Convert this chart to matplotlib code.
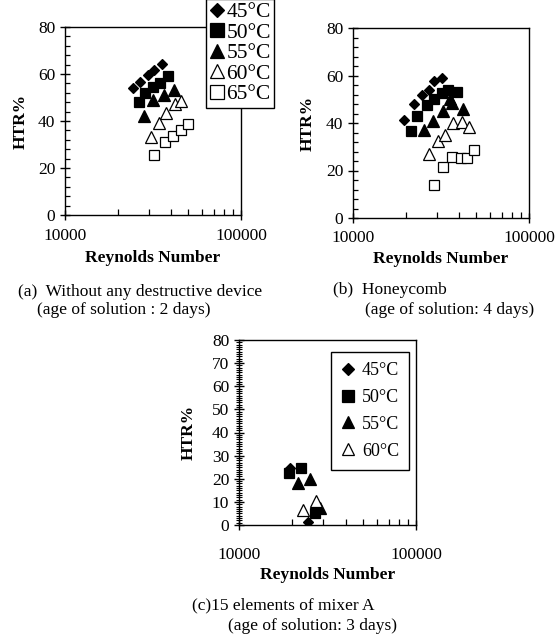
import matplotlib
matplotlib.use("Agg")
import matplotlib.pyplot as plt
from matplotlib.lines import Line2D
from matplotlib.ticker import FixedLocator, MultipleLocator, NullFormatter, LogLocator

plt.rcParams['font.family'] = ['Liberation Serif', 'DejaVu Serif']

temps = ['45°C', '50°C', '55°C', '60°C', '65°C']

# (a) without any destructive device
re_a = {
    '45°C': [24400, 26700, 29500, 32200, 35800],
    '50°C': [26400, 28500, 31800, 34700, 38600],
    '55°C': [28100, 31800, 36500, 41500],
    '60°C': [30700, 34200, 37300, 42200, 45400],
    '65°C': [32200, 37000, 40900, 45400, 50200],
}
htr_a = {
    '45°C': [54.2, 56.7, 59.6, 61.7, 64.1],
    '50°C': [48.2, 52.0, 54.3, 56.0, 59.0],
    '55°C': [42.1, 48.9, 51.0, 53.2],
    '60°C': [33.1, 39.3, 43.3, 47.2, 48.5],
    '65°C': [25.5, 30.9, 33.6, 36.2, 38.7],
}

# (b) honeycomb
re_b = {
    '45°C': [19500, 22200, 24600, 27200, 28900, 32200],
    '50°C': [21300, 23000, 26200, 28900, 31900, 34800, 38800],
    '55°C': [25300, 28400, 32300, 35400, 36300, 42000],
    '60°C': [27200, 30500, 33300, 37200, 41400, 45700],
    '65°C': [28900, 32600, 36700, 40900, 44600, 48600],
}
htr_b = {
    '45°C': [41.3, 48.2, 51.7, 53.8, 57.5, 58.9],
    '50°C': [36.6, 43.0, 47.5, 50.0, 52.5, 54.0, 53.0],
    '55°C': [37.0, 40.8, 45.0, 50.0, 48.3, 46.0],
    '60°C': [26.8, 32.4, 34.8, 40.1, 40.4, 38.3],
    '65°C': [13.7, 21.5, 25.8, 25.1, 25.1, 28.5],
}

# (c) 15 elements of mixer A
re_c = {
    '45°C': [19500, 24600],
    '50°C': [19200, 22500, 26800],
    '55°C': [21600, 25100, 28600],
    '60°C': [23000, 27200],
}
htr_c = {
    '45°C': [24.5, 1.4],
    '50°C': [22.3, 24.5, 5.3],
    '55°C': [18.0, 19.7, 7.2],
    '60°C': [6.5, 10.5],
}

estilo = {
    '45°C': dict(marker='D', ms=5.5, mfc='black'),
    '50°C': dict(marker='s', ms=7.5, mfc='black'),
    '55°C': dict(marker='^', ms=8.5, mfc='black'),
    '60°C': dict(marker='^', ms=8.5, mfc='white'),
    '65°C': dict(marker='s', ms=7.5, mfc='white'),
}

W, H = 559, 635
fig = plt.figure(figsize=(W / 100, H / 100), dpi=100)

def px_axes(x0, y0, x1, y1):
    return fig.add_axes([x0 / W, 1 - y1 / H, (x1 - x0) / W, (y1 - y0) / H])

def montar(ax, re, htr, ymajor, yminor, cminor_inout=False, xpad=5.5, ypad=4, xlpad=3):
    for t in re:
        ax.plot(re[t], htr[t], linestyle='none', mec='black', mew=0.9, zorder=3, **estilo[t])
    ax.set_xscale('log')
    ax.set_xlim(10000, 100000)
    ax.set_ylim(0, 80)
    ax.xaxis.set_major_locator(FixedLocator([10000, 100000]))
    ax.set_xticklabels(['10000', '100000'])
    ax.xaxis.set_minor_locator(LogLocator(base=10, subs=range(2, 10)))
    ax.xaxis.set_minor_formatter(NullFormatter())
    ax.yaxis.set_major_locator(MultipleLocator(ymajor))
    ax.yaxis.set_minor_locator(MultipleLocator(yminor))
    ax.tick_params(axis='both', which='major', direction='inout', length=7, width=1,
                   labelsize=12.5, colors='black')
    ax.tick_params(axis='x', which='major', pad=xpad)
    ax.tick_params(axis='x', which='minor', direction='in', length=4, width=0.9)
    if cminor_inout:
        ax.tick_params(axis='y', which='minor', direction='inout', length=4, width=0.8)
    else:
        ax.tick_params(axis='y', which='minor', direction='in', length=3.6, width=0.9)
    for s in ax.spines.values():
        s.set_linewidth(1)
    ax.set_xlabel('Reynolds Number', fontsize=12.5, fontweight='bold', labelpad=xlpad)
    ax.set_ylabel('HTR%', fontsize=12.5, fontweight='bold', labelpad=ypad)

ax_a = px_axes(65, 27, 241, 215)
montar(ax_a, re_a, htr_a, 20, 4, ypad=6.5, xlpad=5)
ax_b = px_axes(353, 28, 529, 218)
montar(ax_b, re_b, htr_b, 20, 4, ypad=7.5, xlpad=3)
ax_c = px_axes(239, 340, 416, 525)
montar(ax_c, re_c, htr_c, 10, 1, cminor_inout=True, xpad=12, ypad=11, xlpad=3)

# legendas
def handles(lista, escala):
    return [Line2D([], [], linestyle='none', mec='black', mew=0.9,
                   **{**estilo[t], 'ms': estilo[t]['ms'] * escala}) for t in lista]

leg_a = fig.legend(handles(temps, 1.25), temps, loc='upper right',
                   bbox_to_anchor=(274 / W, 1 + 1 / H), fontsize=15.5,
                   handlelength=0.7, handletextpad=0.1, borderpad=0.15,
                   labelspacing=0.02, borderaxespad=0, fancybox=False,
                   edgecolor='black', framealpha=1)
leg_a.get_frame().set_linewidth(1)

temps_c = temps[:4]
leg_c = fig.legend(handles(temps_c, 1.1), temps_c, loc='upper right',
                   bbox_to_anchor=(409 / W, 1 - 352 / H), fontsize=13,
                   handlelength=0.8, handletextpad=0.35, borderpad=0.55,
                   labelspacing=0.55, borderaxespad=0, fancybox=False,
                   edgecolor='black', framealpha=1)
leg_c.get_frame().set_linewidth(1)

# legendas das figuras
fs = 12.5
fig.text(18 / W, 1 - 292 / H, '(a)  Without any destructive device', fontsize=fs, va='center')
fig.text(37 / W, 1 - 310 / H, '(age of solution : 2 days)', fontsize=fs, va='center')
fig.text(333 / W, 1 - 290 / H, '(b)  Honeycomb', fontsize=fs, va='center')
fig.text(365 / W, 1 - 310 / H, '(age of solution: 4 days)', fontsize=fs, va='center')
fig.text(192 / W, 1 - 605 / H, '(c)15 elements of mixer A', fontsize=fs, va='center')
fig.text(228 / W, 1 - 626 / H, '(age of solution: 3 days)', fontsize=fs, va='center')

fig.savefig('out.png', dpi=100)
